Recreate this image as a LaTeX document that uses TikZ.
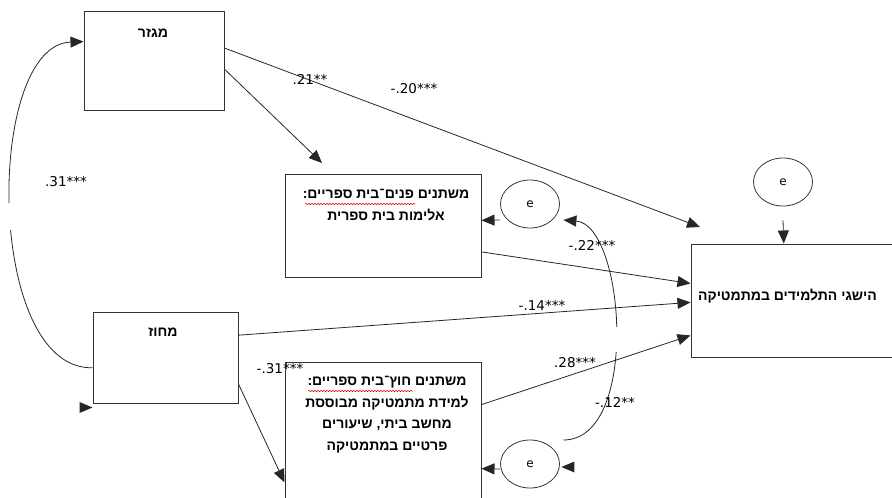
\documentclass[tikz,border=0pt]{standalone}
\usepackage{fontspec}
\usetikzlibrary{arrows.meta,decorations.pathmorphing,calc,shapes.geometric}
\TeXXeTstate=1
\setmainfont{DejaVu Sans}
\newfontfamily\hebfont[Script=Hebrew]{Liberation Sans}

\tikzset{
  varbox/.style={draw=black!80, line width=1pt, rectangle, inner sep=0pt},
  errnode/.style={draw=black!80, line width=0.8pt, ellipse, minimum width=59pt,
    minimum height=48pt, inner sep=0pt, font=\fontsize{12}{14}\selectfont},
  hebtext/.style={font=\hebfont\bfseries\fontsize{14}{22.5}\selectfont, align=center, inner sep=0pt},
  coef/.style={font=\fontsize{13.5}{15}\selectfont, inner sep=0pt},
  path/.style={draw=black!85, line width=0.8pt, -{Triangle[length=13pt,width=11pt]}},
  conn/.style={draw=black!85, line width=0.8pt},
  headonly/.style={fill=black!85},
  spell/.style={draw=red!85!black, line width=0.5pt, decorate,
    decoration={snake, segment length=3pt, amplitude=0.7pt}}
}

\begin{document}
\begin{tikzpicture}[x=1pt,y=-1pt]
\useasboundingbox (0,0) rectangle (892,498);
\clip (0,0) rectangle (892,498);

% variable boxes
\node[varbox, minimum width=140pt, minimum height=99pt] (gender) at (154,60.5) {};
\node[varbox, minimum width=145pt, minimum height=91pt] (district) at (165.5,357.5) {};
\node[varbox, minimum width=196pt, minimum height=103pt] (inner) at (383,225.5) {};
\node[varbox, minimum width=196pt, minimum height=153pt] (outer) at (383,438.5) {};
\node[varbox, minimum width=214pt, minimum height=113pt] (ach) at (798,300.5) {};

% box captions
\node[hebtext] (tgender) at (153,33) {\beginR מגזר\endR};
\node[hebtext] (tdistrict) at (163,332) {\beginR מחוז\endR};
\node[hebtext, anchor=north] (tinner) at (386,189)
  {\beginR משתנים פנים־בית ספריים:\endR\\ \beginR אלימות בית ספרית\endR};
\node[hebtext, anchor=north, font=\hebfont\bfseries\fontsize{14}{21.7}\selectfont] (touter) at (387,376)
  {\beginR משתנים חוץ־בית ספריים:\endR\\ \beginR למידת מתמטיקה מבוססת\endR\\
   \beginR מחשב ביתי, שיעורים\endR\\ \beginR פרטיים במתמטיקה\endR};
\node[hebtext] (tach) at (787.5,296) {\beginR הישגי התלמידים במתמטיקה\endR};

% spell-check marks
\draw[spell] (305,204) -- (415,204);
\draw[spell] (308,391) -- (413,391);

% error terms
\node[errnode] (e1) at (783,182) {e};
\node[errnode] (e2) at (530,204) {e};
\node[errnode] (e3) at (530,464) {e};

% free arrow ends
\coordinate (tipA) at (322,163);
\coordinate (tipB) at (700,227);

% structural paths
\draw[path] (gender.-7.73) -- (tipA);
\draw[path] (gender.10.92) -- (tipB);
\draw[path] (inner.-15.67) -- (ach.171.76);
\draw[path] (district.17.24) -- (ach.181.34);
\draw[path] (district.-20.78) -- (outer.-156.07);
\draw[path] (outer.19.91) -- (ach.198.84);

% residual arrows
\draw[path] ([yshift=-14pt]e1.south) -- (ach.104.87);
\draw[path] ([yshift=-16pt]e2.west) -- (inner.3.21);
\draw[path] ([yshift=-5pt]e3.west) -- (outer.-17.29);

% correlation between the two residuals
\begin{scope}
  \clip (540,200) rectangle (660,327) (540,352) rectangle (660,480);
  \draw[conn, {Triangle[length=13pt,width=11pt]}-]
    ($(e2.east)+(3.5,16)$) .. controls (625,225) and (640,440) .. ($(e3.east)+(3.5,-24)$);
\end{scope}
% loose arrowhead beside the lower residual
\fill[headonly] ($(e3.east)+(1.5,3)$) -- ++(13,-5.5) -- ++(0,11) -- cycle;

% correlation between gender and district
\begin{scope}
  \clip (-5,0) rectangle (100,203) (-5,230) rectangle (100,420);
  \draw[conn, {Triangle[length=13pt,width=11pt]}-]
    (gender.165.2) .. controls (-15,45) and (-15,370) .. (district.-172.53);
\end{scope}
% loose arrowhead under the district box
\fill[headonly] ($(district.south west)+(0,4)$) -- ++(-13,-5.5) -- ++(0,11) -- cycle;

% coefficients
\node[coef] (c1) at (310,79) {.21**};
\node[coef] (c2) at (414,89) {-.20***};
\node[coef] (c3) at (66,182) {.31***};
\node[coef] (c4) at (592,245) {-.22***};
\node[coef] (c5) at (542,305) {-.14***};
\node[coef] (c6) at (575,363) {.28***};
\node[coef] (c7) at (615,402) {-.12**};
\node[coef] (c8) at (280,369) {-.31***};
\end{tikzpicture}
\end{document}
